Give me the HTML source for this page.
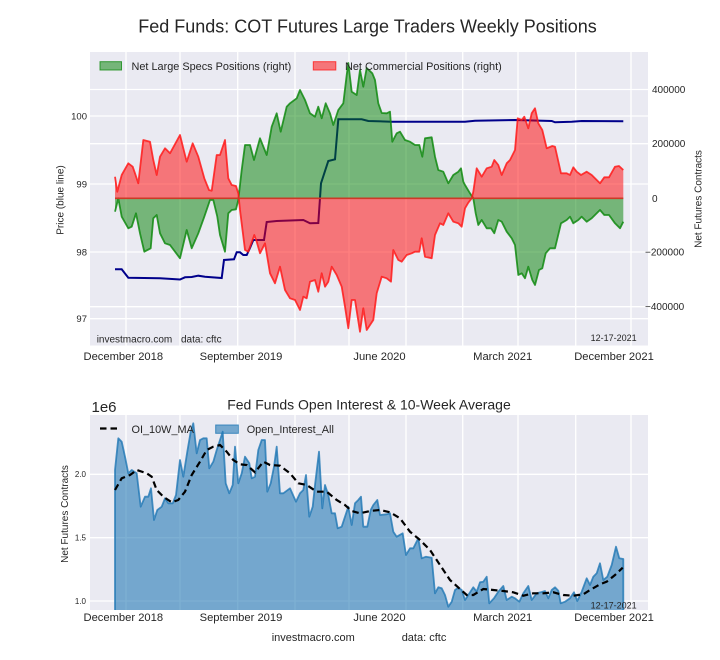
<!DOCTYPE html>
<html><head><meta charset="utf-8"><style>
html,body{margin:0;padding:0;background:#fff;}
svg{display:block;}
text{font-family:"Liberation Sans",Arial,sans-serif;fill:#262626;}
</style></head><body>
<svg width="720" height="660" viewBox="0 0 720 660" xmlns="http://www.w3.org/2000/svg">
<defs>
<clipPath id="c1"><rect x="90" y="52" width="558" height="293.5"/></clipPath>
<clipPath id="c2"><rect x="90" y="415" width="558" height="195"/></clipPath>
</defs>
<rect width="720" height="660" fill="#fff"/>
<text x="367.5" y="32.5" font-size="18" text-anchor="middle" fill="#000">Fed Funds: COT Futures Large Traders Weekly Positions</text>

<!-- TOP AXES -->
<rect x="90" y="52" width="558" height="293.5" fill="#eaeaf2"/>
<g stroke="#fff" stroke-width="1.3">
<line x1="126" y1="52" x2="126" y2="345.5"/><line x1="180" y1="52" x2="180" y2="345.5"/>
<line x1="237.7" y1="52" x2="237.7" y2="345.5"/><line x1="295" y1="52" x2="295" y2="345.5"/>
<line x1="349" y1="52" x2="349" y2="345.5"/><line x1="406" y1="52" x2="406" y2="345.5"/>
<line x1="462.7" y1="52" x2="462.7" y2="345.5"/><line x1="518" y1="52" x2="518" y2="345.5"/>
<line x1="575.7" y1="52" x2="575.7" y2="345.5"/><line x1="631" y1="52" x2="631" y2="345.5"/>
<line x1="90" y1="116" x2="648" y2="116"/><line x1="90" y1="184" x2="648" y2="184"/>
<line x1="90" y1="252" x2="648" y2="252"/><line x1="90" y1="318.7" x2="648" y2="318.7"/>
<line x1="90" y1="89.5" x2="648" y2="89.5"/><line x1="90" y1="143.7" x2="648" y2="143.7"/>
<line x1="90" y1="306.7" x2="648" y2="306.7"/>
</g>
<g clip-path="url(#c1)">
<polyline fill="none" stroke="#00008b" stroke-width="2" points="115,269.3 121.7,269.3 128.3,277.7 160,278.3 180,279.5 185,277.3 191.7,277 198.3,275.7 205,276.7 221.7,278 224,260 234,259.3 236.7,252.3 240,252.3 243.3,255 246.7,255 250,248 253.3,240 264,240 266.7,222 276.7,221 303.3,220 310,223.3 318.3,223 321,183.3 328.3,161 335,159.3 338.3,119.3 361.7,119.3 368.3,121 391.7,121.7 465,121.7 475,120.7 515,120 551.7,121 555,122.3 571.7,121.7 581.7,121 623.3,121.3"/>
<polygon fill="#008000" fill-opacity="0.5" stroke="none" points="115,211.7 118.3,198.3 121.7,216.7 128.3,228.3 131.7,226.7 136,213.3 140,233.3 144.3,251.7 150.7,248.3 153.3,218.3 156.7,215 160,233.3 165,243.3 170,245 180,258.3 186.7,230 191.7,248.3 198.3,233.3 204.3,216.7 210,200 213.3,200 217.3,216.7 220,235 225,251.7 228.3,213.3 231.7,210 236,209.3 238.3,200 241.7,170 245,145 250,145 254,160 260,138.3 266.7,155 271.7,126.7 276.7,113.3 280.7,131.7 286.7,106.7 290,103.3 296.7,98.3 300,90 305,100 310,113.3 315,116.7 318.3,106.7 321.7,118.3 325.7,103.3 330,113.3 333.3,125 338.3,110 343.3,103.3 346.7,75 348.3,63 351.7,91.7 356.7,95 360,70 363.3,86.7 366.7,68 372.3,73.3 375,80 378.3,103.3 381.7,113 386.7,113.3 390,111.7 392.3,141.7 396.7,133.3 400,131.7 405,140 410,141.7 415,145 419.3,145 422.3,156.7 425,138.3 431.7,137.3 435,156.7 438.3,170 443.3,171.7 448.3,183.3 453.3,175 458.3,171.7 461,168.3 463.3,181.7 465,185 470,193.3 473.3,198.3 475.7,213.3 478.3,225 481.7,220 486.7,228.3 491,228.3 494.3,233.3 498.3,220 501.7,221.7 506.7,231.7 511.7,238.3 515,245 518.3,275 521.7,273.3 525,278.3 528.3,266.7 532.3,280 535,285 539,270 542.3,268.3 545.7,253.3 550,248.3 555,248.3 561,223.3 566.7,220 570,216.7 573.3,223.3 578.3,220 581.7,216.7 586.7,221.7 591.7,218.3 600,210 604.3,215 609,215 615,223.3 620,228.3 623.3,221.7 623.3,198.3 115,198.3"/>
<polyline fill="none" stroke="#118a11" stroke-opacity="0.85" stroke-width="1.8" stroke-linejoin="round" points="115,211.7 118.3,198.3 121.7,216.7 128.3,228.3 131.7,226.7 136,213.3 140,233.3 144.3,251.7 150.7,248.3 153.3,218.3 156.7,215 160,233.3 165,243.3 170,245 180,258.3 186.7,230 191.7,248.3 198.3,233.3 204.3,216.7 210,200 213.3,200 217.3,216.7 220,235 225,251.7 228.3,213.3 231.7,210 236,209.3 238.3,200 241.7,170 245,145 250,145 254,160 260,138.3 266.7,155 271.7,126.7 276.7,113.3 280.7,131.7 286.7,106.7 290,103.3 296.7,98.3 300,90 305,100 310,113.3 315,116.7 318.3,106.7 321.7,118.3 325.7,103.3 330,113.3 333.3,125 338.3,110 343.3,103.3 346.7,75 348.3,63 351.7,91.7 356.7,95 360,70 363.3,86.7 366.7,68 372.3,73.3 375,80 378.3,103.3 381.7,113 386.7,113.3 390,111.7 392.3,141.7 396.7,133.3 400,131.7 405,140 410,141.7 415,145 419.3,145 422.3,156.7 425,138.3 431.7,137.3 435,156.7 438.3,170 443.3,171.7 448.3,183.3 453.3,175 458.3,171.7 461,168.3 463.3,181.7 465,185 470,193.3 473.3,198.3 475.7,213.3 478.3,225 481.7,220 486.7,228.3 491,228.3 494.3,233.3 498.3,220 501.7,221.7 506.7,231.7 511.7,238.3 515,245 518.3,275 521.7,273.3 525,278.3 528.3,266.7 532.3,280 535,285 539,270 542.3,268.3 545.7,253.3 550,248.3 555,248.3 561,223.3 566.7,220 570,216.7 573.3,223.3 578.3,220 581.7,216.7 586.7,221.7 591.7,218.3 600,210 604.3,215 609,215 615,223.3 620,228.3 623.3,221.7"/>
<polygon fill="#ff0000" fill-opacity="0.5" stroke="none" points="115,176.7 117.3,191.7 121.7,175 128.3,163.3 132.7,166.7 135,173.3 138.3,183.3 143.3,140 150,141.7 153.3,160 156.7,175 160,156.7 165,148.3 170,153.3 180,135 183.3,148.3 186.7,161.7 192.7,143.3 198.3,156.7 204.3,178.3 209,190 211.7,190.7 216.7,155 220,155 225,140 228.3,178.3 231.7,185 236,186 238.3,193.3 240,210 245,250 248.3,251.7 254.3,235 256.7,241.7 260,253.3 265,243.3 270,273.3 275,283.3 280,266.7 285,290 290,298.3 295,300 300,310 303.3,296.7 306.7,298.3 310,281.7 315,280 318.3,291.7 321.7,273.3 325,286.7 328.3,281.7 331.7,266.7 336.7,275 341.7,286.7 345,306.7 348.3,328.3 351.7,300 355,300 360,331.7 363.3,308.3 366.7,330 373.3,320 376.7,293.3 381.7,276.7 386.7,278.3 391,281.7 393.3,250 398.3,260 401.7,261.7 406.7,255 411.7,253.3 415,251.7 419.3,251.7 421.7,238.3 425,256.7 431.7,258.3 435,235 440,223.3 443.3,225 448.3,213.3 453.3,221.7 458.3,223.3 461.7,226.7 465,208.3 468.3,202.7 471.7,198.3 473.3,191.7 476.7,168.3 481.7,176.7 486.7,168.3 491.7,166.7 494.3,160 498.3,165 501.7,175 506.7,163.3 510,160 515,150 517.7,118.3 521.7,120 524.3,116.7 528.3,128.3 531.7,113.3 535,108.3 538.3,123.3 542.3,130 546.7,148.3 552.3,146 555,146.7 561,173.3 566.7,173.3 570,175 573.3,167.3 576.7,171.7 581,175 586.7,171.7 591.7,175 600,183.3 604.3,177.3 609,177.3 615,166.7 619,166 623.3,170 623.3,198.3 115,198.3"/>
<polyline fill="none" stroke="#ff1a1a" stroke-opacity="0.85" stroke-width="1.8" stroke-linejoin="round" points="115,176.7 117.3,191.7 121.7,175 128.3,163.3 132.7,166.7 135,173.3 138.3,183.3 143.3,140 150,141.7 153.3,160 156.7,175 160,156.7 165,148.3 170,153.3 180,135 183.3,148.3 186.7,161.7 192.7,143.3 198.3,156.7 204.3,178.3 209,190 211.7,190.7 216.7,155 220,155 225,140 228.3,178.3 231.7,185 236,186 238.3,193.3 240,210 245,250 248.3,251.7 254.3,235 256.7,241.7 260,253.3 265,243.3 270,273.3 275,283.3 280,266.7 285,290 290,298.3 295,300 300,310 303.3,296.7 306.7,298.3 310,281.7 315,280 318.3,291.7 321.7,273.3 325,286.7 328.3,281.7 331.7,266.7 336.7,275 341.7,286.7 345,306.7 348.3,328.3 351.7,300 355,300 360,331.7 363.3,308.3 366.7,330 373.3,320 376.7,293.3 381.7,276.7 386.7,278.3 391,281.7 393.3,250 398.3,260 401.7,261.7 406.7,255 411.7,253.3 415,251.7 419.3,251.7 421.7,238.3 425,256.7 431.7,258.3 435,235 440,223.3 443.3,225 448.3,213.3 453.3,221.7 458.3,223.3 461.7,226.7 465,208.3 468.3,202.7 471.7,198.3 473.3,191.7 476.7,168.3 481.7,176.7 486.7,168.3 491.7,166.7 494.3,160 498.3,165 501.7,175 506.7,163.3 510,160 515,150 517.7,118.3 521.7,120 524.3,116.7 528.3,128.3 531.7,113.3 535,108.3 538.3,123.3 542.3,130 546.7,148.3 552.3,146 555,146.7 561,173.3 566.7,173.3 570,175 573.3,167.3 576.7,171.7 581,175 586.7,171.7 591.7,175 600,183.3 604.3,177.3 609,177.3 615,166.7 619,166 623.3,170"/>
<line x1="115" y1="198.3" x2="623.3" y2="198.3" stroke="#cc3a26" stroke-width="1.6"/>
</g>
<!-- top legend -->
<rect x="100" y="61.7" width="21.5" height="8.3" fill="#008000" fill-opacity="0.5" stroke="#118a11" stroke-opacity="0.8" stroke-width="1"/>
<text x="131.5" y="70" font-size="10.9">Net Large Specs Positions (right)</text>
<rect x="313.3" y="61.7" width="22.5" height="8.3" fill="#ff0000" fill-opacity="0.5" stroke="#ff1a1a" stroke-opacity="0.8" stroke-width="1"/>
<text x="345" y="70" font-size="10.9">Net Commercial Positions (right)</text>
<text x="96.7" y="342.5" font-size="10">investmacro.com</text>
<text x="181" y="342.5" font-size="10">data: cftc</text>
<text x="636.7" y="341" font-size="9" text-anchor="end">12-17-2021</text>
<!-- top tick labels -->
<g font-size="9.5" text-anchor="end">
<text x="87" y="119.5">100</text><text x="87" y="187.5">99</text><text x="87" y="255.5">98</text><text x="87" y="322">97</text>
</g>
<g font-size="10">
<text x="652" y="93">400000</text><text x="652" y="147">200000</text><text x="652" y="201.8">0</text>
<text x="645" y="255.5">−200000</text><text x="645" y="310">−400000</text>
</g>
<text transform="translate(63.5,200) rotate(-90)" font-size="10" text-anchor="middle">Price (blue line)</text>
<text transform="translate(701.5,199) rotate(-90)" font-size="10" text-anchor="middle">Net Futures Contracts</text>
<g font-size="11.2" text-anchor="middle">
<text x="123.3" y="360">December 2018</text><text x="241" y="360">September 2019</text>
<text x="379.5" y="360">June 2020</text><text x="502.7" y="360">March 2021</text><text x="614" y="360">December 2021</text>
</g>

<!-- BOTTOM AXES -->
<text x="369" y="409.3" font-size="14" text-anchor="middle">Fed Funds Open Interest &amp; 10-Week Average</text>
<text x="91.5" y="412" font-size="15">1e6</text>
<rect x="90" y="415" width="558" height="195" fill="#eaeaf2"/>
<g stroke="#fff" stroke-width="1.3">
<line x1="126" y1="415" x2="126" y2="610"/><line x1="180" y1="415" x2="180" y2="610"/>
<line x1="237.7" y1="415" x2="237.7" y2="610"/><line x1="295" y1="415" x2="295" y2="610"/>
<line x1="349" y1="415" x2="349" y2="610"/><line x1="406" y1="415" x2="406" y2="610"/>
<line x1="462.7" y1="415" x2="462.7" y2="610"/><line x1="518" y1="415" x2="518" y2="610"/>
<line x1="575.7" y1="415" x2="575.7" y2="610"/><line x1="631" y1="415" x2="631" y2="610"/>
<line x1="90" y1="474.3" x2="648" y2="474.3"/><line x1="90" y1="537.7" x2="648" y2="537.7"/>
<line x1="90" y1="601" x2="648" y2="601"/>
</g>
<g clip-path="url(#c2)">
<polygon fill="#1f77b4" fill-opacity="0.58" stroke="#1f77b4" stroke-opacity="0.8" stroke-width="1.8" stroke-linejoin="round" points="115,615 115,470 118.3,438.3 121.7,441.7 125,456.7 128.3,473.3 131.7,470 136.7,473.3 140.7,506.7 145,496.7 148.3,496.7 151,488.3 154,520 157.3,510 161.7,506.7 165,498.3 168.3,503.3 172.7,503.3 176,495 180,460 183.3,476.7 187.3,451.7 190.7,431.7 193.3,423.3 196.7,453.3 200,440 203.3,438.3 206.7,438.3 209.3,468.3 213.3,461.7 216.7,450 220,440 222.7,431.7 225.7,483.3 229.3,493.3 232.7,485 235,446.7 238.3,483.3 241.7,473.3 245,456.7 249.3,463.3 251.7,478.3 255,476.7 258.3,450 261.7,440 265,440 267.3,491.7 270.7,483.3 274,466.7 276.7,446.7 280,493.3 283.3,493.3 290,488.3 296,501.7 300,493.3 303.3,490 306,475 309.3,516.7 312.7,506.7 315,485 319,451.7 322.3,508.3 325,485 328.3,495 331.7,513.3 335,513.3 337.7,528.3 341.7,526.7 345,516.7 348.3,506.7 351.7,525 355,503.3 358.3,500 361,496.7 363.3,526.7 367.3,526.7 370.7,510 373.3,505 377.3,500 380,515 386.7,514.3 390,513.3 393.3,531.7 396.7,536.7 402.7,533.3 406,555 410,548.3 413.3,548.3 418.3,538.3 421.7,558.3 426,556.7 431.7,557.7 435,593.3 438.3,587.3 441.7,588.3 445,595 448.3,606.7 451.7,601.7 455,590 458.3,587.7 461.7,590 465,600 468.3,595 473.3,587.3 476.7,591.7 480,582.3 483.3,581.7 486.7,576.7 489.3,603.3 494,598.3 498.3,591.7 503.3,586 506.7,600 511.7,596.7 515,598.3 519.3,601.7 523.3,593.3 528.3,586 531.7,600 536.7,593.3 540.7,592.3 545,591 548.3,598.3 551.7,590 555,587.3 558.3,590.7 560.7,603.3 565,601.7 570,598.3 574,592.3 577.3,601 581.7,591.7 586.7,578.3 590,585 593.3,576.7 596.7,573.3 600,563.3 603.3,580 607.3,576.7 611.7,565 616,546.7 619.3,558.3 623.3,559 623.3,615"/>
<polyline fill="none" stroke="#000" stroke-width="2.2" stroke-dasharray="6.5,4" points="115,490 121.7,478.3 130,475 136.7,470 146.7,473.3 151.7,476.7 156.7,490 163.3,496.7 171.7,502.3 178.3,500 185,491.7 191.7,475 200,461.7 206.7,450 213.3,446.7 220,445 226.7,451.7 233.3,460 240,464.3 246.7,465 255,472.3 263.3,461.7 270,465 280,465.7 290,473.3 298.3,483.3 306.7,485 316.7,491.7 326.7,491.7 336.7,500 345,505 351.7,511 360,513.3 370,511 380,510 390,512.3 400,518.3 410,531.7 420,540 430,550 440,565 450,580 460,589 466.7,595 473.3,595 483.3,589 493.3,590 503.3,591 513.3,592.3 523.3,595.7 533.3,593.3 543.3,593.3 553.3,592.3 563.3,595 573.3,595.7 583.3,594.3 590,590 600,584.3 606.7,581.7 615,575 622.7,567.7"/>
</g>
<!-- bottom legend -->
<line x1="100" y1="428.5" x2="121" y2="428.5" stroke="#000" stroke-width="2.2" stroke-dasharray="6.5,4"/>
<text x="131.5" y="433" font-size="10.9">OI_10W_MA</text>
<rect x="215.7" y="425" width="22.6" height="8.3" fill="#1f77b4" fill-opacity="0.58" stroke="#1f77b4" stroke-opacity="0.8" stroke-width="1"/>
<text x="246.7" y="433" font-size="10.9">Open_Interest_All</text>
<text x="636.7" y="608.5" font-size="9" text-anchor="end">12-17-2021</text>
<g font-size="8" text-anchor="end">
<text x="86" y="477">2.0</text><text x="86" y="540.5">1.5</text><text x="86" y="604">1.0</text>
</g>
<text transform="translate(68,514) rotate(-90)" font-size="10" text-anchor="middle">Net Futures Contracts</text>
<g font-size="11.2" text-anchor="middle">
<text x="123.3" y="621">December 2018</text><text x="241" y="621">September 2019</text>
<text x="379.5" y="621">June 2020</text><text x="502.7" y="621">March 2021</text><text x="614" y="621">December 2021</text>
</g>
<text x="271.7" y="641" font-size="11">investmacro.com</text>
<text x="401.7" y="641" font-size="11">data: cftc</text>
</svg>
</body></html>
